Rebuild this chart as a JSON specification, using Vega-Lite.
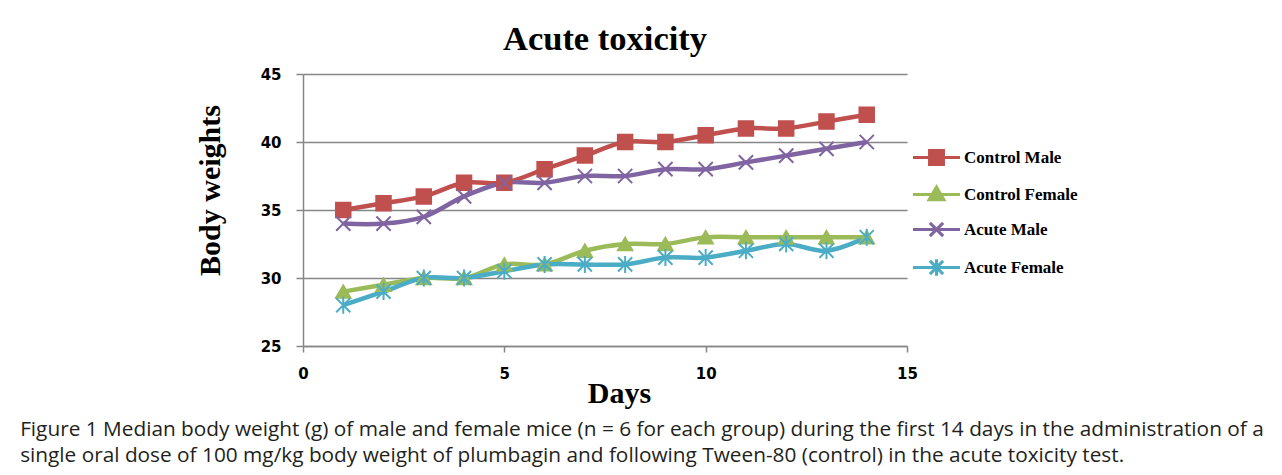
{
  "$schema": "https://vega.github.io/schema/vega-lite/v6.json",
  "background": "white",
  "autosize": {"type": "pad"},
  "padding": {"left": 20, "top": 21, "right": 5, "bottom": 5},
  "title": {
    "text": [
      "Figure 1 Median body weight (g) of male and female mice (n = 6 for each group) during the first 14 days in the administration of a",
      "single oral dose of 100 mg/kg body weight of plumbagin and following Tween-80 (control) in the acute toxicity test."
    ],
    "orient": "bottom",
    "anchor": "start",
    "frame": "bounds",
    "font": "Open Sans",
    "fontSize": 20.8,
    "fontWeight": "normal",
    "color": "#231f20",
    "lineHeight": 26,
    "dx": -175,
    "offset": 12
  },
  "vconcat": [
    {
      "width": 604,
      "height": 272,
      "title": {
        "text": "Acute toxicity",
        "font": "Liberation Serif",
        "fontSize": 34.5,
        "fontWeight": "bold",
        "color": "#000000",
        "anchor": "middle",
        "frame": "group",
        "offset": 10
      },
      "data": {
        "values": [
          {"day": 1, "series": "Control Male", "w": 35},
          {"day": 2, "series": "Control Male", "w": 35.5},
          {"day": 3, "series": "Control Male", "w": 36},
          {"day": 4, "series": "Control Male", "w": 37},
          {"day": 5, "series": "Control Male", "w": 37},
          {"day": 6, "series": "Control Male", "w": 38},
          {"day": 7, "series": "Control Male", "w": 39},
          {"day": 8, "series": "Control Male", "w": 40},
          {"day": 9, "series": "Control Male", "w": 40},
          {"day": 10, "series": "Control Male", "w": 40.5},
          {"day": 11, "series": "Control Male", "w": 41},
          {"day": 12, "series": "Control Male", "w": 41},
          {"day": 13, "series": "Control Male", "w": 41.5},
          {"day": 14, "series": "Control Male", "w": 42},
          {"day": 1, "series": "Control Female", "w": 29},
          {"day": 2, "series": "Control Female", "w": 29.5},
          {"day": 3, "series": "Control Female", "w": 30},
          {"day": 4, "series": "Control Female", "w": 30},
          {"day": 5, "series": "Control Female", "w": 31},
          {"day": 6, "series": "Control Female", "w": 31},
          {"day": 7, "series": "Control Female", "w": 32},
          {"day": 8, "series": "Control Female", "w": 32.5},
          {"day": 9, "series": "Control Female", "w": 32.5},
          {"day": 10, "series": "Control Female", "w": 33},
          {"day": 11, "series": "Control Female", "w": 33},
          {"day": 12, "series": "Control Female", "w": 33},
          {"day": 13, "series": "Control Female", "w": 33},
          {"day": 14, "series": "Control Female", "w": 33},
          {"day": 1, "series": "Acute Male", "w": 34},
          {"day": 2, "series": "Acute Male", "w": 34},
          {"day": 3, "series": "Acute Male", "w": 34.5},
          {"day": 4, "series": "Acute Male", "w": 36},
          {"day": 5, "series": "Acute Male", "w": 37},
          {"day": 6, "series": "Acute Male", "w": 37},
          {"day": 7, "series": "Acute Male", "w": 37.5},
          {"day": 8, "series": "Acute Male", "w": 37.5},
          {"day": 9, "series": "Acute Male", "w": 38},
          {"day": 10, "series": "Acute Male", "w": 38},
          {"day": 11, "series": "Acute Male", "w": 38.5},
          {"day": 12, "series": "Acute Male", "w": 39},
          {"day": 13, "series": "Acute Male", "w": 39.5},
          {"day": 14, "series": "Acute Male", "w": 40},
          {"day": 1, "series": "Acute Female", "w": 28},
          {"day": 2, "series": "Acute Female", "w": 29},
          {"day": 3, "series": "Acute Female", "w": 30},
          {"day": 4, "series": "Acute Female", "w": 30},
          {"day": 5, "series": "Acute Female", "w": 30.5},
          {"day": 6, "series": "Acute Female", "w": 31},
          {"day": 7, "series": "Acute Female", "w": 31},
          {"day": 8, "series": "Acute Female", "w": 31},
          {"day": 9, "series": "Acute Female", "w": 31.5},
          {"day": 10, "series": "Acute Female", "w": 31.5},
          {"day": 11, "series": "Acute Female", "w": 32},
          {"day": 12, "series": "Acute Female", "w": 32.5},
          {"day": 13, "series": "Acute Female", "w": 32},
          {"day": 14, "series": "Acute Female", "w": 33}
        ]
      },
      "encoding": {
        "x": {
          "field": "day",
          "type": "quantitative",
          "scale": {"domain": [0, 15], "nice": false, "zero": false},
          "axis": {
            "values": [0, 5, 10, 15],
            "title": "Days",
            "titleFont": "Liberation Serif",
            "titleFontSize": 30,
            "titleFontWeight": "bold",
            "titleColor": "#000000",
            "titlePadding": -3,
            "titleX": 316,
            "labelFont": "DejaVu Sans",
            "labelFontSize": 15,
            "labelFontWeight": "bold",
            "labelColor": "#000000",
            "labelPadding": 14,
            "labelFlush": false,
            "tickSize": 6,
            "tickColor": "#868686",
            "tickWidth": 1.5,
            "domainColor": "#868686",
            "domainWidth": 1.5,
            "grid": false
          }
        },
        "y": {
          "field": "w",
          "type": "quantitative",
          "scale": {"domain": [25, 45], "nice": false, "zero": false},
          "axis": {
            "values": [25, 30, 35, 40, 45],
            "title": "Body weights",
            "titleFont": "Liberation Serif",
            "titleFontSize": 30,
            "titleFontWeight": "bold",
            "titleColor": "#000000",
            "titlePadding": 35,
            "titleY": 116,
            "labelFont": "DejaVu Sans",
            "labelFontSize": 15,
            "labelFontWeight": "bold",
            "labelColor": "#000000",
            "labelPadding": 15,
            "labelFlush": false,
            "tickSize": 7,
            "tickColor": "#868686",
            "tickWidth": 1.5,
            "domainColor": "#868686",
            "domainWidth": 1.5,
            "grid": true,
            "gridColor": "#868686",
            "gridWidth": 1.5
          }
        }
      },
      "layer": [
        {
          "mark": {"type": "line", "interpolate": "catmull-rom", "strokeWidth": 4.5},
          "encoding": {
            "color": {
              "field": "series",
              "type": "nominal",
              "scale": {
                "domain": ["Control Male", "Control Female", "Acute Male", "Acute Female"],
                "range": ["#C0504D", "#9BBB59", "#8064A2", "#4BACC6"]
              },
              "legend": {
                "orient": "none",
                "legendX": 620,
                "legendY": 70,
                "title": null,
                "labelFont": "Liberation Serif",
                "labelFontSize": 17,
                "labelFontWeight": "bold",
                "labelColor": "#000000",
                "symbolSize": 576,
                "symbolStrokeWidth": 3,
                "rowPadding": 10,
                "labelOffset": 14,
                "encode": {
                  "symbols": {
                    "update": {
                      "shape": {"signal": "datum.value === 'Control Male' ? 'M-1.96,0L1.96,0M-0.58,-0.58L0.58,-0.58L0.58,0.58L-0.58,0.58Z' : datum.value === 'Control Female' ? 'M-1.96,0L1.96,0M0,-0.62L0.62,0.44L-0.62,0.44Z' : datum.value === 'Acute Male' ? 'M-1.96,0L1.96,0M-0.55,-0.55L0.55,0.55M-0.55,0.55L0.55,-0.55' : 'M-1.96,0L1.96,0M-0.55,-0.55L0.55,0.55M-0.55,0.55L0.55,-0.55M0,-0.68L0,0.68'"},
                      "fill": {"signal": "scale('color', datum.value)"},
                      "stroke": {"signal": "scale('color', datum.value)"},
                      "strokeWidth": {"value": 3},
                      "opacity": {"value": 1},
                      "fillOpacity": {"value": 1},
                      "strokeOpacity": {"value": 1}
                    }
                  }
                }
              }
            }
          }
        },
        {
          "mark": {"type": "point", "filled": true, "strokeWidth": 2, "opacity": 1},
          "encoding": {
            "fill": {
              "field": "series",
              "type": "nominal",
              "scale": {
                "domain": ["Acute Female", "Acute Male", "Control Female", "Control Male"],
                "range": ["#4BACC6", "#8064A2", "#9BBB59", "#C0504D"]
              },
              "legend": null
            },
            "stroke": {
              "field": "series",
              "type": "nominal",
              "scale": {
                "domain": ["Acute Female", "Acute Male", "Control Female", "Control Male"],
                "range": ["#4BACC6", "#8064A2", "#9BBB59", "#C0504D"]
              },
              "legend": null
            },
            "shape": {
              "field": "series",
              "type": "nominal",
              "scale": {
                "domain": ["Acute Female", "Acute Male", "Control Female", "Control Male"],
                "range": ["M-1,-1L1,1M-1,1L1,-1M0,-1.2L0,1.2", "M-1,-1L1,1M-1,1L1,-1", "triangle-up", "square"]
              },
              "legend": null
            },
            "size": {
              "field": "series",
              "type": "nominal",
              "scale": {
                "domain": ["Acute Female", "Acute Male", "Control Female", "Control Male"],
                "range": [200, 210, 270, 170]
              },
              "legend": null
            }
          }
        }
      ]
    }
  ],
  "config": {
    "view": {"stroke": null},
    "concat": {"spacing": 0}
  }
}
